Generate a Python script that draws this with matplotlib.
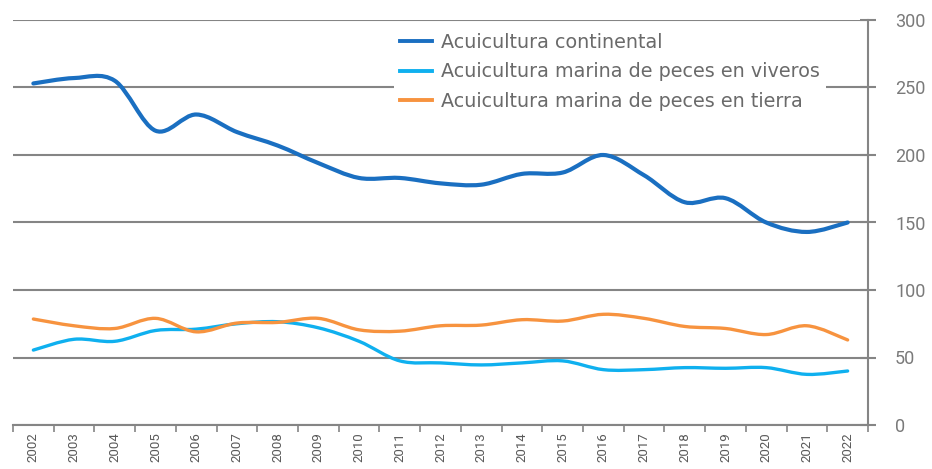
import numpy as np
import matplotlib.pyplot as plt
from matplotlib.path import Path
from matplotlib.patches import PathPatch
from matplotlib.lines import Line2D

years = list(range(2002, 2023))
continental = [253, 257, 255, 218, 230, 217, 207, 194, 183, 183, 179, 178,
               186, 187, 200, 185, 165, 168, 150, 143, 150]
viveros = [55.5, 63.5, 62, 70, 71, 75, 76.5, 72, 62, 47.5, 46, 44.5,
           46, 47.5, 41, 41, 42.5, 42, 42.5, 37.5, 40]
tierra = [78.5, 73.5, 71.5, 79, 69, 75.5, 76, 79, 70.5, 69.5, 73.5, 74,
          78, 77, 82, 79, 73, 71.5, 67, 73.5, 63]
labels = ["Acuicultura continental",
          "Acuicultura marina de peces en viveros",
          "Acuicultura marina de peces en tierra"]
colors = ["#1a6fc1", "#0fb0ef", "#f7933f"]

plt.rcParams['font.family'] = ['Roboto', 'DejaVu Sans']


def smooth_path(xs, ys):
    # Catmull-Rom through the points, written as cubic Bezier segments
    pts = np.column_stack([xs, ys]).astype(float)
    padded = np.vstack([pts[0], pts, pts[-1]])
    verts = [pts[0]]
    codes = [Path.MOVETO]
    for i in range(len(pts) - 1):
        p0, p1, p2, p3 = padded[i], padded[i + 1], padded[i + 2], padded[i + 3]
        verts += [p1 + (p2 - p0) / 6, p2 - (p3 - p1) / 6, p2]
        codes += [Path.CURVE4] * 3
    return Path(verts, codes)


fig = plt.figure(figsize=(9.32, 4.69), dpi=100)
ax = fig.add_axes([13 / 932, 44 / 469, 855 / 932, 405 / 469])

x = np.arange(len(years))
widths = [3.0, 2.4, 2.4]
handles = []
for series, c, lw, lab in zip([continental, viveros, tierra], colors, widths, labels):
    ax.add_patch(PathPatch(smooth_path(x, series), fill=False, edgecolor=c,
                           lw=lw, capstyle='round', zorder=3))
    handles.append(Line2D([], [], color=c, lw=2.8, label=lab))

ax.set_xlim(-0.5, len(years) - 0.5)
ax.set_ylim(0, 300)

gray = "#858585"
ax.set_yticks(range(0, 301, 50))
ax.yaxis.tick_right()
ax.grid(axis='y', color=gray, lw=1.5)
ax.set_axisbelow(True)
ax.tick_params(axis='y', direction='inout', length=11, width=1.5, color=gray,
               labelcolor="#7a7a7a", labelsize=13, pad=14)

ax.set_xticks(np.arange(-0.5, len(years), 1))
ax.set_xticklabels([])
ax.set_xticks(x, minor=True)
ax.set_xticklabels([str(y) for y in years], minor=True, rotation=90)
ax.tick_params(axis='x', which='major', direction='out', length=5, width=1.2, color=gray)
ax.tick_params(axis='x', which='minor', length=0, pad=5, labelsize=9.5,
               labelcolor="#5a5a5a")

for s in ['top', 'left']:
    ax.spines[s].set_visible(False)
for s in ['right', 'bottom']:
    ax.spines[s].set_color(gray)
    ax.spines[s].set_linewidth(1.5)

leg = ax.legend(handles=handles, loc='upper left',
                bbox_to_anchor=(394 / 932, 1 - 27 / 469),
                bbox_transform=fig.transFigure, frameon=True, fancybox=False,
                facecolor='white', edgecolor='none', framealpha=1,
                prop={'family': 'DejaVu Sans', 'size': 13.8},
                handlelength=1.7, handletextpad=0.45,
                labelspacing=0.55, borderpad=0.3, borderaxespad=0)
for t in leg.get_texts():
    t.set_color("#6a6a6a")
leg.set_zorder(5)

fig.savefig("out.png", dpi=100)
